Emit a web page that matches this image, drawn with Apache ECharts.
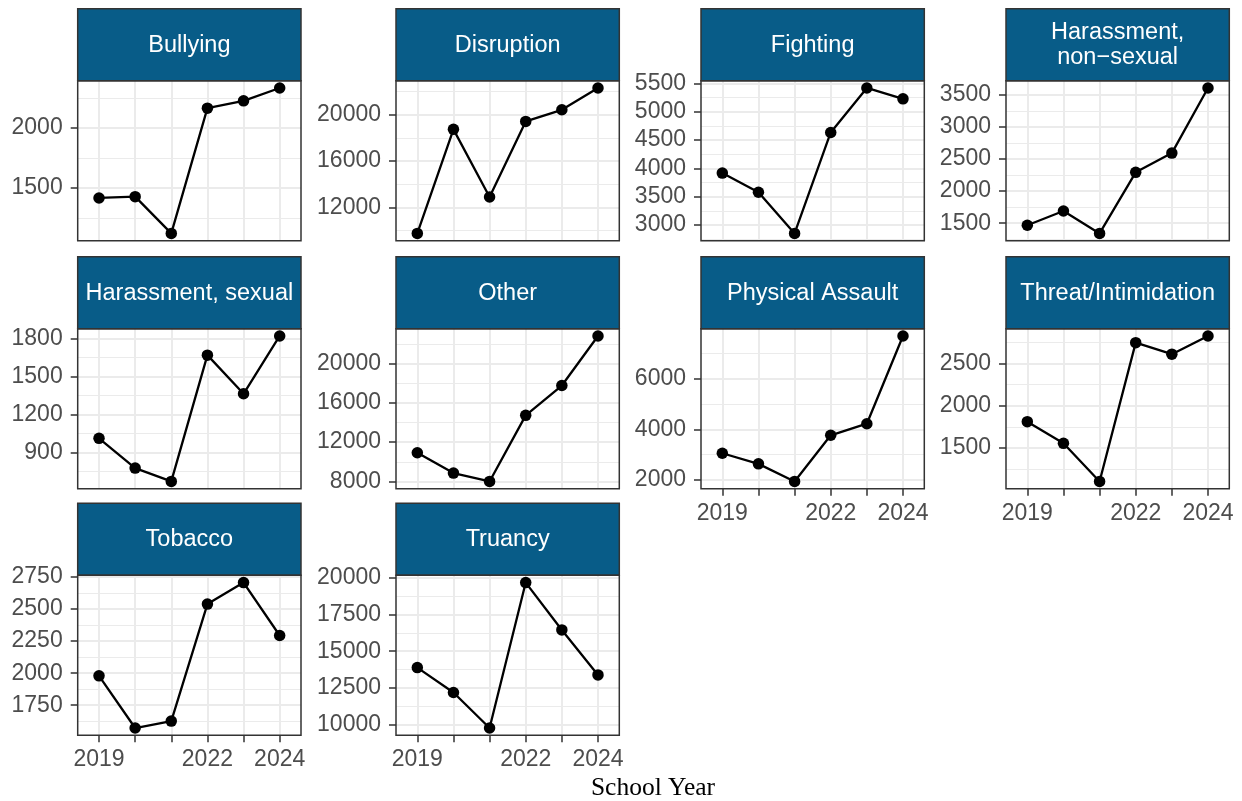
<!DOCTYPE html>
<html><head><meta charset="utf-8">
<script src="https://cdn.jsdelivr.net/npm/echarts@6/dist/echarts.min.js"></script>
<style>html,body{margin:0;padding:0;background:#fff}#c{width:1242px;height:801px}</style>
</head><body><div id="c"></div>
<script>
// ---- data ----
const years = [2019, 2020, 2021, 2022, 2023, 2024];
const xTickLabels = [2019, 2022, 2024];
const categories = ['Bullying', 'Disruption', 'Fighting', 'Harassment,\nnon\u2212sexual', 'Harassment, sexual',
  'Other', 'Physical Assault', 'Threat/Intimidation', 'Tobacco', 'Truancy'];

const bullying        = [1418, 1429, 1123, 2165, 2226, 2333];
const disruption      = [9746, 18740, 12891, 19426, 20428, 22314];
const fighting        = [3916, 3577, 2850, 4633, 5419, 5227];
const harassNonSexual = [1469, 1690, 1341, 2293, 2593, 3608];
const harassSexual    = [1012, 778, 673, 1667, 1363, 1818];
const other           = [10921, 8847, 8000, 14720, 17752, 22792];
const physicalAssault = [3051, 2630, 1933, 3764, 4224, 7705];
const threat          = [1811, 1554, 1102, 2748, 2611, 2827];
const tobacco         = [1979, 1572, 1626, 2539, 2707, 2294];
const truancy         = [13884, 12191, 9778, 19664, 16445, 13387];

const bullyingTicks        = [1500, 2000];
const disruptionTicks      = [12000, 16000, 20000];
const fightingTicks        = [3000, 3500, 4000, 4500, 5000, 5500];
const harassNonSexualTicks = [1500, 2000, 2500, 3000, 3500];
const harassSexualTicks    = [900, 1200, 1500, 1800];
const otherTicks           = [8000, 12000, 16000, 20000];
const physicalAssaultTicks = [2000, 4000, 6000];
const threatTicks          = [1500, 2000, 2500];
const tobaccoTicks         = [1750, 2000, 2250, 2500, 2750];
const truancyTicks         = [10000, 12500, 15000, 17500, 20000];

const seriesValues = [bullying, disruption, fighting, harassNonSexual, harassSexual,
  other, physicalAssault, threat, tobacco, truancy];
const seriesTicks = [bullyingTicks, disruptionTicks, fightingTicks, harassNonSexualTicks, harassSexualTicks,
  otherTicks, physicalAssaultTicks, threatTicks, tobaccoTicks, truancyTicks];

// ---- layout ----
const colLeft = [77.7, 396, 701, 1006];
const rowTop = [80.7, 328.7, 575.3];
const PW = 223.3, PH = 160, SH = 72;
const xMin = 2018.41, xMax = 2024.59;
const FONT = '"Liberation Sans", Arial, sans-serif';
const FS = 23;
const SFS = 23.5;
const TXT = '#4D4D4D';
const STRIP = '#085C88';

function minorOf(ticks, lo, hi) {
  const step = ticks[1] - ticks[0];
  const res = [];
  for (let v = ticks[0] - step / 2; v <= ticks[ticks.length - 1] + step / 2 + 1e-9; v += step) {
    if (v >= lo && v <= hi) res.push(v);
  }
  return res;
}

const grids = [], xAxes = [], yAxes = [], series = [], graphics = [];
categories.forEach((name, i) => {
  const r = Math.floor(i / 4), c = i % 4;
  const left = colLeft[c], top = rowTop[r];
  const vals = seriesValues[i];
  const lo0 = Math.min(...vals), hi0 = Math.max(...vals);
  const pad = (hi0 - lo0) * 0.05;
  const lo = lo0 - pad, hi = hi0 + pad;
  const showX = i >= 6;
  grids.push({left: left, top: top, width: PW, height: PH, show: false, containLabel: false, outerBoundsMode: 'none'});
  xAxes.push({
    type: 'value', gridIndex: i, min: xMin, max: xMax,
    axisLine: {show: false},
    axisTick: {show: showX, customValues: years, length: 7, lineStyle: {color: '#333333', width: 1.5}},
    axisLabel: {show: showX, customValues: xTickLabels, margin: 13, color: TXT, fontSize: FS, fontFamily: FONT,
      formatter: v => String(v)},
    splitLine: {show: true, lineStyle: {color: '#EBEBEB', width: 2}}
  });
  // major y axis
  yAxes.push({
    type: 'value', gridIndex: i, min: lo, max: hi, position: 'left',
    axisLine: {show: false},
    axisTick: {show: true, customValues: seriesTicks[i], length: 7, lineStyle: {color: '#333333', width: 1.5}},
    axisLabel: {show: true, customValues: seriesTicks[i], margin: 15, color: TXT, fontSize: FS, fontFamily: FONT,
      formatter: v => String(v)},
    splitLine: {show: true, lineStyle: {color: '#EBEBEB', width: 2}}
  });
  // minor y axis (for minor gridlines)
  yAxes.push({
    type: 'value', gridIndex: i, min: lo, max: hi, position: 'left',
    axisLine: {show: false},
    axisTick: {show: false, customValues: minorOf(seriesTicks[i], lo, hi)},
    axisLabel: {show: false},
    splitLine: {show: true, lineStyle: {color: '#EBEBEB', width: 1}}
  });
  series.push({
    type: 'line', xAxisIndex: i, yAxisIndex: 2 * i, z: 5, clip: false,
    data: years.map((y, j) => [y, vals[j]]),
    symbol: 'circle', symbolSize: 11.5, showSymbol: true,
    itemStyle: {color: '#000'}, lineStyle: {color: '#000', width: 2.3},
    emphasis: {disabled: true}, silent: true
  });
  // strip
  graphics.push({type: 'rect', z: 50, shape: {x: left, y: top - SH, width: PW, height: SH},
    style: {fill: STRIP, stroke: '#333333', lineWidth: 1.5}});
  graphics.push({type: 'text', z: 51, x: left + PW / 2, y: top - SH / 2 + 0.5,
    style: {text: name, fill: '#FFFFFF', font: SFS + 'px ' + FONT, align: 'center', verticalAlign: 'middle', lineHeight: 25.5}});
  // panel border
  graphics.push({type: 'rect', z: 50, shape: {x: left, y: top, width: PW, height: PH},
    style: {fill: null, stroke: '#333333', lineWidth: 1.5}});
});
graphics.push({type: 'text', z: 51, x: 653, y: 788,
  style: {text: 'School Year', fill: '#000', font: '25.5px "Liberation Serif", "Times New Roman", serif',
    align: 'center', verticalAlign: 'middle'}});

const chart = echarts.init(document.getElementById('c'), null, {renderer: 'canvas'});
chart.setOption({
  animation: false,
  backgroundColor: '#FFFFFF',
  grid: grids, xAxis: xAxes, yAxis: yAxes, series: series, graphic: graphics
});
</script></body></html>
